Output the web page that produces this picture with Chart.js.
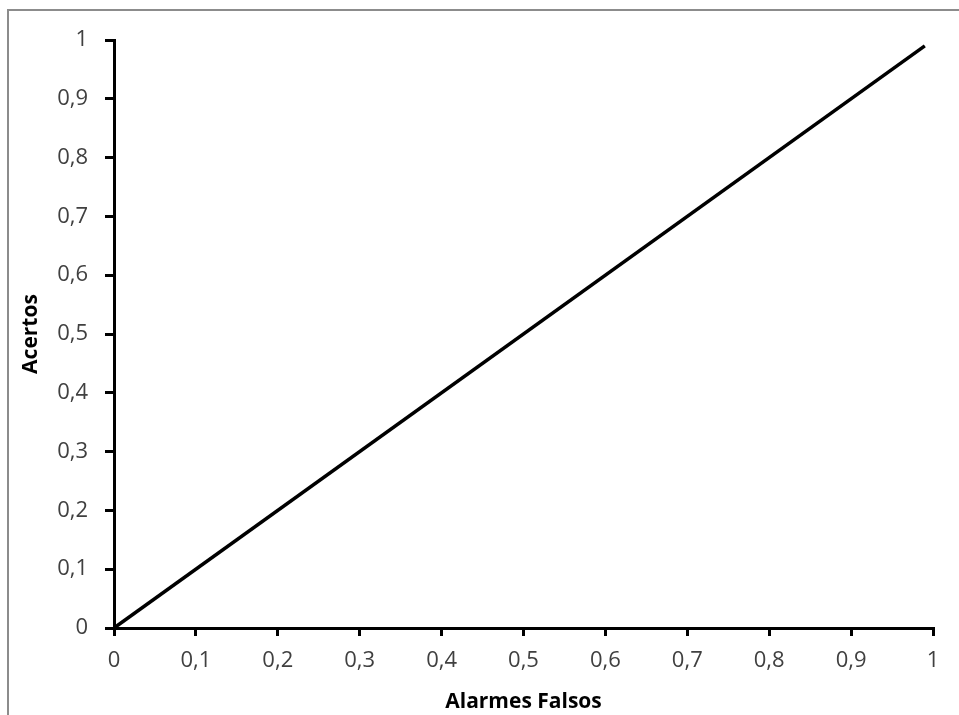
<!DOCTYPE html>
<html>
<head>
<meta charset="utf-8">
<script src="https://cdn.jsdelivr.net/npm/chart.js@4.4.0/dist/chart.umd.min.js"></script>
<style>
  html, body { margin: 0; padding: 0; background: #fff; overflow: hidden; }
  #frame { position: absolute; left: 7px; top: 9px; width: 1000px; height: 800px;
           border-left: 2px solid #8c8c8c; border-top: 2px solid #8c8c8c; }
  #c { position: absolute; left: 0; top: 0; }
</style>
</head>
<body>
<div id="frame"></div>
<canvas id="c" width="959" height="715"></canvas>
<script>
// Data
const falseAlarms = [0, 0.99];
const hits = [0, 0.99];
const xTickValues = [0, 0.1, 0.2, 0.3, 0.4, 0.5, 0.6, 0.7, 0.8, 0.9, 1];
const yTickValues = [0, 0.1, 0.2, 0.3, 0.4, 0.5, 0.6, 0.7, 0.8, 0.9, 1];
const xTitle = 'Alarmes Falsos';
const yTitle = 'Acertos';

const fmt = v => {
  const r = Math.round(v * 10) / 10;
  if (r === 0) return '0';
  if (r === 1) return '1';
  return r.toFixed(1).replace('.', ',');
};

const points = falseAlarms.map((x, i) => ({ x: x, y: hits[i] }));
const tickFont = { family: 'Open Sans', size: 22 };
const titleFont = { family: 'Open Sans', size: 21, weight: 'bold' };

new Chart(document.getElementById('c'), {
  type: 'scatter',
  data: {
    datasets: [{
      data: points,
      showLine: true,
      borderColor: '#000',
      borderWidth: 3.5,
      pointRadius: 0,
      fill: false
    }]
  },
  options: {
    responsive: false,
    animation: false,
    layout: { padding: { left: 0, top: 40, right: 26, bottom: 0 } },
    plugins: { legend: { display: false }, tooltip: { enabled: false } },
    scales: {
      x: {
        type: 'linear', min: 0, max: 1,
        afterBuildTicks: s => { s.ticks = xTickValues.map(v => ({ value: v })); },
        afterFit: s => { s.height = 87; },
        ticks: { callback: fmt, font: tickFont, color: '#404040', padding: 12, maxRotation: 0, autoSkip: false },
        grid: { drawOnChartArea: false, drawTicks: true, tickLength: 8, color: '#000', lineWidth: 3 },
        border: { display: true, color: '#000', width: 3 },
        title: { display: true, text: xTitle, font: titleFont, color: '#000', padding: { top: 0, bottom: 0 } }
      },
      y: {
        type: 'linear', min: 0, max: 1,
        afterBuildTicks: s => { s.ticks = yTickValues.map(v => ({ value: v })); },
        afterFit: s => { s.width = 114; },
        ticks: { callback: fmt, font: tickFont, color: '#404040', padding: 17, autoSkip: false },
        grid: { drawOnChartArea: false, drawTicks: true, tickLength: 9, color: '#000', lineWidth: 3 },
        border: { display: true, color: '#000', width: 3 },
        title: { display: true, text: yTitle, font: titleFont, color: '#000', padding: { top: 18, bottom: 0 } }
      }
    }
  }
});
</script>
</body>
</html>
